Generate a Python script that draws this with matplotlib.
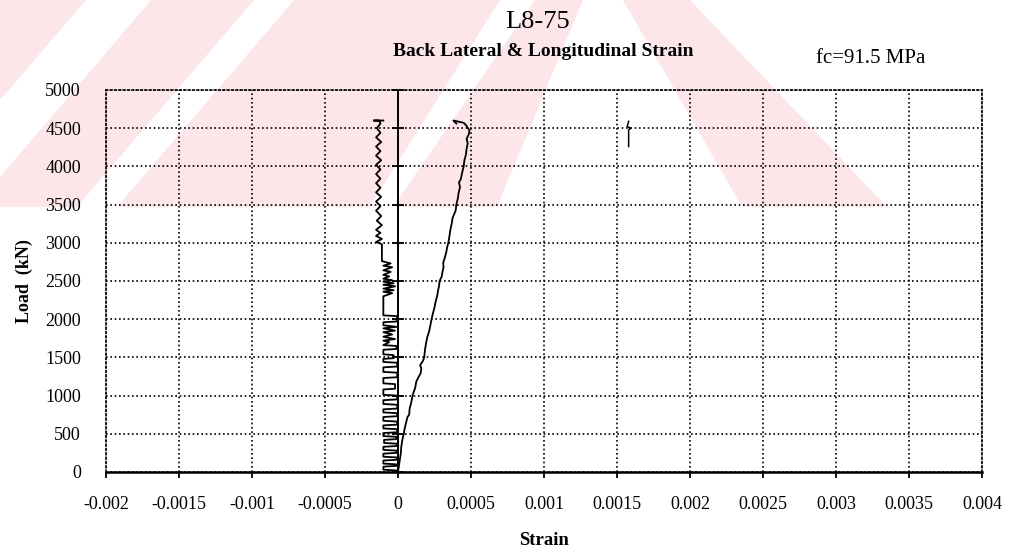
import matplotlib.pyplot as plt
from matplotlib.patches import Polygon

# load (kN) against strain, values in microstrain
long_strain = [0, 5, 12, 20, 22, 30, 40, 45, 55, 65, 77, 80, 90, 100, 110, 118, 125, 140,
               155, 160, 152, 170, 180, 185, 192, 200, 212, 220, 230, 240, 250, 258, 268,
               275, 282, 285, 300, 305, 312, 310, 320, 330, 338, 345, 352, 358, 368, 375,
               395, 400, 410, 415, 425, 418, 430, 440, 450, 455, 465, 470, 478, 470, 485,
               490, 470, 450, 380, 400]
long_load = [0, 60, 150, 250, 320, 420, 500, 560, 640, 720, 750, 830, 900, 1000, 1060, 1100,
             1180, 1240, 1290, 1350, 1400, 1450, 1500, 1600, 1680, 1760, 1830, 1900, 2000,
             2080, 2150, 2230, 2300, 2380, 2440, 2500, 2560, 2620, 2680, 2740, 2800, 2870,
             2950, 3000, 3080, 3160, 3250, 3330, 3420, 3500, 3580, 3650, 3730, 3790, 3830,
             3920, 4000, 4080, 4150, 4230, 4300, 4360, 4420, 4470, 4530, 4570, 4600, 4560]

lat_strain = [0, -10, -100, -100, -10, -10, -100, -100, -5, -5, -100, -100, -10, -10, -100,
              -100, -5, -5, -95, -95, -10, -10, -100, -100, -5, -5, -100, -100, -5, -5, -100,
              -100, -5, -5, -100, -100, -5, -5, -100, -100, -5, -5,
              -100, -100, -20, -20, -100, -100, -5, -5, -100, -100, -5, -5, -100, -100, -30,
              -30,
              -100, -100, -10, -10, -100, -60, -100, -20, -100, -40, -100, -20, -100, -10,
              -100, -100, -5, -5,
              -100, -100, -40, -100, -30, -100, -20, -100, -30, -100, -40, -100, -60, -100,
              -50, -100, -40, -100, -50, -110, -110,
              -150, -110, -150, -120, -150, -110, -145, -115, -150, -120, -150, -115, -150,
              -120, -150, -120, -150, -120, -150, -115, -150, -120, -150, -115, -150, -120,
              -145, -120, -130, -165, -100]
lat_load = [0, 20, 30, 70, 80, 100, 110, 150, 160, 190, 200, 240, 250, 280, 290, 330, 340,
            370, 380, 420, 430, 460, 470, 510, 520, 560, 570, 610, 620, 660, 670, 720, 730,
            770, 780, 820, 830, 880, 890, 940, 950, 1000,
            1010, 1080, 1090, 1150, 1160, 1230, 1240, 1300, 1310, 1370, 1380, 1430, 1440,
            1480, 1490, 1530,
            1540, 1600, 1610, 1650, 1660, 1700, 1720, 1740, 1770, 1800, 1830, 1850, 1880,
            1900, 1920, 1960, 1970, 2040,
            2050, 2300, 2340, 2360, 2380, 2400, 2430, 2450, 2470, 2490, 2510, 2530, 2560,
            2580, 2620, 2640, 2680, 2700, 2730, 2760, 2980,
            3010, 3050, 3090, 3130, 3170, 3230, 3290, 3350, 3420, 3480, 3540, 3600, 3660,
            3720, 3780, 3840, 3900, 3960, 4020, 4080, 4140, 4200, 4260, 4320, 4380, 4440,
            4500, 4560, 4600, 4600, 4600]

# short trace near 0.0016
gauge_strain = [1580, 1580, 1595, 1570, 1580]
gauge_load = [4260, 4480, 4500, 4520, 4590]

x_ticks = [-0.002, -0.0015, -0.001, -0.0005, 0, 0.0005, 0.001, 0.0015, 0.002,
           0.0025, 0.003, 0.0035, 0.004]
x_labels = ["-0.002", "-0.0015", "-0.001", "-0.0005", "0", "0.0005", "0.001", "0.0015",
            "0.002", "0.0025", "0.003", "0.0035", "0.004"]
y_ticks = [0, 500, 1000, 1500, 2000, 2500, 3000, 3500, 4000, 4500, 5000]

# page background band (pink) with white diagonal gaps, pixel corners
band = [(0, 0), (690, 0), (887, 207), (0, 207)]
gaps = [
    [(0, 100), (86, 0), (151, 0), (0, 177)],
    [(77, 207), (254, 0), (294, 0), (117, 207)],
    [(370, 207), (500, 0), (535, 0), (393, 207)],
    [(497, 207), (583, 0), (623, 0), (742, 207)],
]

plt.rcParams['font.family'] = ['Liberation Serif', 'DejaVu Serif']

W, H = 1014, 553
fig = plt.figure(figsize=(W / 100, H / 100), dpi=100)


def page_poly(pts, colour):
    fig.patches.append(Polygon([(x / W, 1 - y / H) for x, y in pts], closed=True,
                               transform=fig.transFigure, facecolor=colour,
                               edgecolor='none', zorder=-10))


page_poly(band, '#fce6e9')
for g in gaps:
    page_poly(g, 'white')

ax = fig.add_axes([0.1045, 0.1465, 0.8639, 0.6908])
ax.patch.set_alpha(0)

ue = 1e-6
ax.plot([s * ue for s in long_strain], long_load, color='black', lw=1.3)
ax.plot([s * ue for s in lat_strain], lat_load, color='black', lw=1.3)
ax.plot([s * ue for s in gauge_strain], gauge_load, color='black', lw=1.1)

ax.set_xlim(-0.002, 0.004)
ax.set_ylim(0, 5000)
ax.set_xticks(x_ticks)
ax.set_xticklabels(x_labels)
ax.set_yticks(y_ticks)

ax.grid(True, color='black', linestyle=(0, (1, 1.6)), linewidth=1.2)
for side in ['left', 'top', 'right']:
    ax.spines[side].set_linestyle((0, (1, 1.6)))
    ax.spines[side].set_linewidth(1.2)
ax.spines['bottom'].set_linewidth(1.8)

# vertical axis crossing at zero strain, with its tick marks
ax.axvline(0, color='black', lw=1.4)
ax.plot([0] * len(y_ticks), y_ticks, linestyle='none', marker='_', markersize=9,
        markeredgewidth=1.3, color='black', clip_on=False)

ax.tick_params(axis='x', direction='out', length=4, width=1.3, pad=13, labelsize=13)
ax.tick_params(axis='y', length=0, pad=18, labelsize=13)

ax.set_xlabel("Strain", fontsize=13.5, fontweight='bold', labelpad=14)
ax.set_ylabel("Load  (kN)", fontsize=13, fontweight='bold', labelpad=9)

fig.text(0.530, 0.960, "L8-75", ha='center', va='center', fontsize=19)
fig.text(0.536, 0.906, "Back Lateral & Longitudinal Strain", ha='center', va='center',
         fontsize=14, fontweight='bold')
fig.text(0.859, 0.895, "fc=91.5 MPa", ha='center', va='center', fontsize=15)

fig.savefig("out.png", dpi=100)
